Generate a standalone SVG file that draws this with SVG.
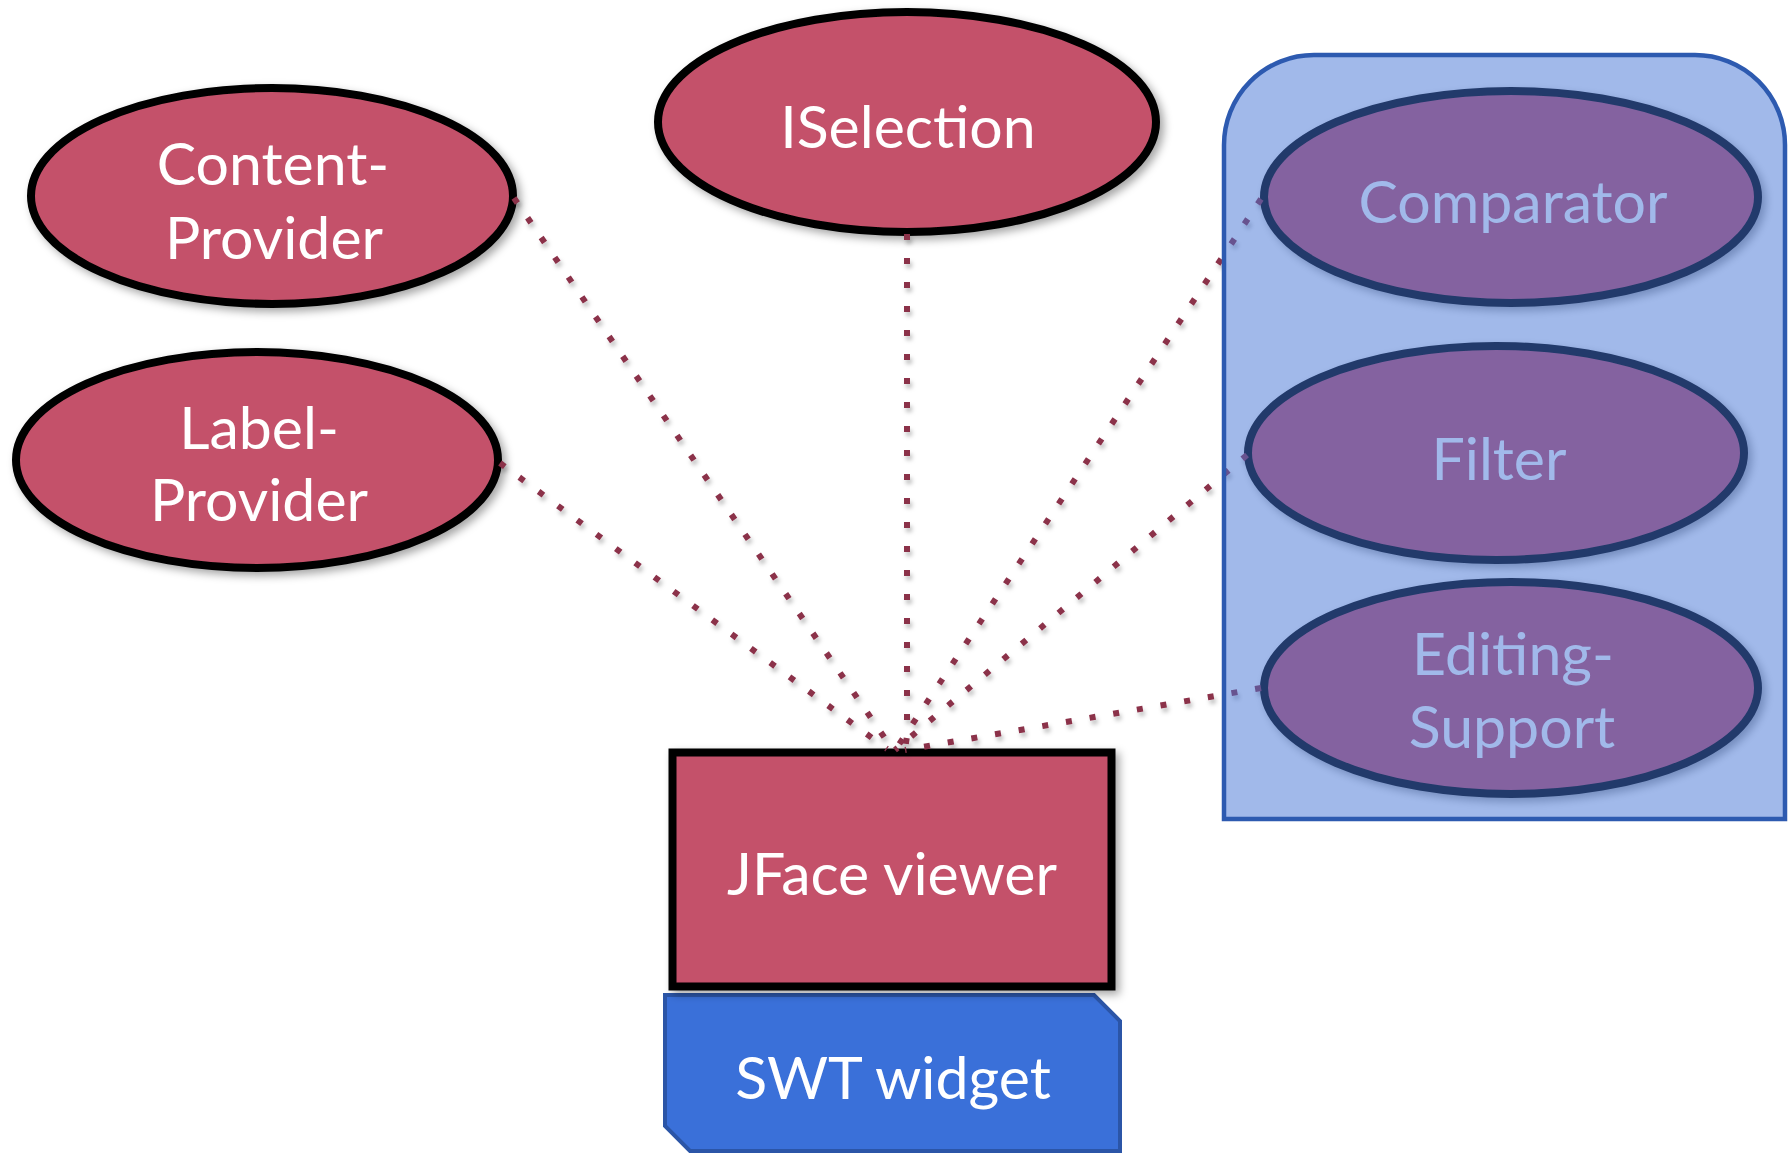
<svg xmlns="http://www.w3.org/2000/svg" width="1791" height="1153" viewBox="0 0 1791 1153">
  <defs>
    <filter id="sh" x="-10%" y="-10%" width="130%" height="130%">
      <feDropShadow dx="4" dy="4" stdDeviation="4" flood-color="#000" flood-opacity="0.35"/>
    </filter>
    <filter id="dsh" x="-20%" y="-20%" width="140%" height="140%">
      <feDropShadow dx="2" dy="4" stdDeviation="2" flood-color="#000" flood-opacity="0.25"/>
    </filter>
  </defs>
  <style>
    .node { fill: #C4516A; stroke: #000; stroke-width: 8; }
    .lbl { fill: #fff; font-family: "Lato", "Liberation Sans", sans-serif; font-size: 59px; text-anchor: middle; }
    .conn { fill: none; stroke: #8B3049; stroke-width: 6; stroke-dasharray: 6 18; }
  </style>
  <rect width="1791" height="1153" fill="#fff"/>

  <g id="swt-widget">
    <path d="M665,995 L1094,995 L1120,1021 L1120,1151 L690,1151 L665,1126 Z" fill="#3A70D9" stroke="#2B55A7" stroke-width="4"/>
    <text class="lbl" x="893" y="1099">SWT widget</text>
  </g>

  <g id="jface-viewer">
    <rect class="node" x="672.5" y="752.5" width="439" height="234" filter="url(#sh)"/>
    <text class="lbl" x="892" y="895">JFace viewer</text>
  </g>

  <g id="content-provider">
    <ellipse class="node" cx="272" cy="196" rx="241" ry="108" filter="url(#sh)"/>
    <text class="lbl" x="273" y="185">Content-</text>
    <text class="lbl" x="274" y="259">Provider</text>
  </g>

  <g id="label-provider">
    <ellipse class="node" cx="257" cy="460" rx="241" ry="108" filter="url(#sh)"/>
    <text class="lbl" x="259" y="449">Label-</text>
    <text class="lbl" x="259" y="521">Provider</text>
  </g>

  <g id="iselection">
    <ellipse class="node" cx="907" cy="122" rx="249" ry="110" filter="url(#sh)"/>
    <text class="lbl" x="908" y="148">ISelection</text>
  </g>

  <g id="comparator">
    <ellipse class="node" cx="1511" cy="197" rx="247" ry="106" filter="url(#sh)"/>
    <text class="lbl" x="1513" y="223">Comparator</text>
  </g>

  <g id="filter">
    <ellipse class="node" cx="1496" cy="453" rx="248" ry="107" filter="url(#sh)"/>
    <text class="lbl" x="1499" y="480">Filter</text>
  </g>

  <g id="editing-support">
    <ellipse class="node" cx="1511" cy="688" rx="247" ry="106" filter="url(#sh)"/>
    <text class="lbl" x="1513" y="675">Editing-</text>
    <text class="lbl" x="1512" y="748">Support</text>
  </g>

  <g id="connectors" filter="url(#dsh)">
    <path class="conn" d="M514,198 L893,750"/>
    <path class="conn" d="M500,463 L887,749"/>
    <path class="conn" d="M907,234 L907,736 L905,750"/>
    <path class="conn" d="M1261,199 L896,749"/>
    <path class="conn" d="M1247,455 L895,750"/>
    <path class="conn" d="M1261,688 L905,750"/>
  </g>

  <g id="options-panel">
    <path d="M1224,819 L1224,145 A90,90 0 0 1 1314,55 L1695,55 A90,90 0 0 1 1785,145 L1785,819 Z" fill="#4373D5" fill-opacity="0.5" stroke="#2D5AB0" stroke-width="4.5"/>
  </g>
</svg>
